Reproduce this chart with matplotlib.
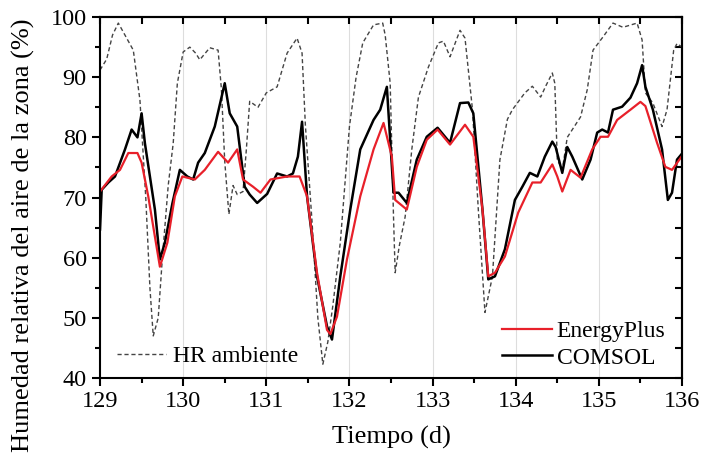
import matplotlib
matplotlib.use("Agg")
import matplotlib.pyplot as plt
from matplotlib.ticker import MultipleLocator

plt.rcParams['font.family'] = ['Liberation Serif', 'DejaVu Serif']

# HR ambiente (dashed)
t_hr = [129.0, 129.08, 129.15, 129.22, 129.3, 129.4, 129.48, 129.55, 129.6, 129.64,
        129.7, 129.75, 129.82, 129.88, 129.93, 130.0, 130.08, 130.15, 130.2, 130.32,
        130.42, 130.46, 130.5, 130.55, 130.6, 130.65, 130.72, 130.76, 130.8, 130.9,
        131.0, 131.13, 131.25, 131.37, 131.43, 131.47, 131.55, 131.62, 131.68, 131.74,
        131.8, 131.89, 132.0, 132.08, 132.16, 132.29, 132.4, 132.43, 132.49, 132.53,
        132.55, 132.6, 132.67, 132.75, 132.83, 132.95, 133.07, 133.13, 133.21, 133.33,
        133.39, 133.48, 133.55, 133.63, 133.72, 133.81, 133.9, 133.96, 134.11, 134.2,
        134.3, 134.36, 134.44, 134.47, 134.5, 134.56, 134.62, 134.78, 134.86, 134.93,
        135.05, 135.17, 135.29, 135.46, 135.52, 135.56, 135.65, 135.76, 135.82, 135.9,
        135.94, 136.0]
hr = [91.2, 93, 97, 99, 97, 94.5, 86.2, 70, 55, 47,
      50, 60, 72, 79, 89, 94.2, 95, 94, 92.9, 94.9,
      94.5, 88, 76, 67.2, 72, 70.5, 71, 78, 86, 85,
      87.4, 88.4, 94, 96.5, 94, 82, 66, 50, 42.3, 46,
      52, 62.5, 81.8, 90, 95.7, 98.7, 99, 97, 89, 66.8,
      57.5, 62, 66.8, 78, 86.7, 91.7, 95.7, 96, 93.4, 97.8,
      96.5, 84.6, 68, 50.9, 56.9, 76.3, 83, 84.6, 87.4, 88.5,
      86.7, 88.5, 90.7, 89, 76.3, 74.6, 80, 83.4, 87.9, 94.5,
      96.7, 99, 98.3, 99, 96.2, 87.4, 85.7, 81.8, 84.6, 94.5,
      95.6, 95]

# COMSOL
t_com = [129.0, 129.02, 129.1, 129.18, 129.3, 129.38, 129.45, 129.5, 129.54, 129.6,
         129.66, 129.72, 129.78, 129.87, 129.96, 130.05, 130.12, 130.18, 130.26, 130.38,
         130.5, 130.56, 130.65, 130.74, 130.8, 130.89, 131.01, 131.13, 131.25, 131.32,
         131.38, 131.43, 131.49, 131.61, 131.73, 131.79, 131.89, 132.01, 132.13, 132.29,
         132.37, 132.45, 132.53, 132.59, 132.69, 132.81, 132.93, 133.06, 133.21, 133.33,
         133.43, 133.49, 133.6, 133.67, 133.75, 133.87, 133.99, 134.08, 134.17, 134.26,
         134.35, 134.44, 134.48, 134.56, 134.62, 134.68, 134.8, 134.9, 134.98, 135.04,
         135.11, 135.17, 135.28, 135.38, 135.46, 135.52, 135.56, 135.65, 135.76, 135.83,
         135.88, 135.94, 136.0]
comsol = [64.7, 71.3, 72.5, 73.5, 78, 81.3, 80, 84, 79, 73.5,
          68, 59.7, 62.5, 69, 74.6, 73.5, 73, 75.8, 77.4, 81.8,
          89, 84, 81.8, 71.8, 70.5, 69.1, 70.6, 74, 73.5, 74,
          76.8, 82.6, 70.2, 56.9, 48.6, 46.4, 56.9, 68, 78, 82.9,
          84.6, 88.4, 70.8, 70.8, 69.1, 76.3, 80.1, 81.6, 79.1, 85.7,
          85.8, 84, 68, 56.4, 56.9, 61.4, 69.6, 71.8, 74.1, 73.5,
          76.8, 79.3, 78.4, 74.1, 78.4, 76.8, 73, 76.3, 80.8, 81.3,
          80.8, 84.6, 85.1, 86.6, 89, 92, 88.4, 84.6, 78, 69.6,
          70.8, 76.3, 77.3]

# EnergyPlus
t_ep = [129.0, 129.14, 129.24, 129.34, 129.45, 129.5, 129.58, 129.66, 129.72, 129.81,
        129.9, 129.99, 130.14, 130.26, 130.42, 130.54, 130.65, 130.72, 130.84, 130.93,
        131.05, 131.25, 131.4, 131.49, 131.61, 131.73, 131.77, 131.85, 131.97, 132.13,
        132.29, 132.41, 132.51, 132.55, 132.69, 132.81, 132.93, 133.06, 133.21, 133.39,
        133.49, 133.6, 133.67, 133.75, 133.87, 134.03, 134.2, 134.3, 134.44, 134.5,
        134.56, 134.66, 134.78, 134.92, 135.02, 135.11, 135.22, 135.38, 135.5, 135.56,
        135.7, 135.8, 135.88, 136.0]
eplus = [71, 73.5, 74.6, 77.4, 77.4, 75.8, 70.2, 63.5, 58.5, 62.5,
         70.2, 73.5, 73, 74.6, 77.6, 75.8, 78, 73, 71.8, 70.8,
         73, 73.5, 73.5, 70.2, 57.5, 48, 47.3, 50.2, 59.7, 70.2,
         78, 82.4, 76.8, 69.6, 68, 75.1, 79.6, 81.3, 78.8, 82.1,
         80.1, 68, 56.9, 57.5, 60.2, 67.5, 72.5, 72.5, 75.5, 73.5,
         71, 74.6, 73.3, 78, 80.1, 80.1, 82.9, 84.6, 85.9, 85.2,
         79.1, 75.1, 74.6, 76.9]

fig = plt.figure(figsize=(7.02, 4.61), dpi=100)
ax = fig.add_axes([0.1425, 0.18, 0.829, 0.783])

for d in range(130, 136):
    ax.axvline(d, color='#dddddd', lw=0.8, zorder=0)

l_hr, = ax.plot(t_hr, hr, color='#444444', lw=1.0, ls=(0, (3, 2)), label='HR ambiente')
l_com, = ax.plot(t_com, comsol, color='black', lw=1.8, label='COMSOL')
l_ep, = ax.plot(t_ep, eplus, color='#e8202a', lw=1.6, label='EnergyPlus')

ax.set_xlim(129, 136)
ax.set_ylim(40, 100)
ax.xaxis.set_major_locator(MultipleLocator(1))
ax.xaxis.set_minor_locator(MultipleLocator(0.5))
ax.yaxis.set_major_locator(MultipleLocator(10))
ax.yaxis.set_minor_locator(MultipleLocator(5))
ax.tick_params(which='both', direction='out', labelsize=17.5, width=1.5)
ax.tick_params(which='major', length=6)
ax.tick_params(which='minor', length=3.5)

top = ax.secondary_xaxis('top')
top.xaxis.set_major_locator(MultipleLocator(0.5))
top.tick_params(direction='in', length=5, width=1.5, labeltop=False)
right = ax.secondary_yaxis('right')
right.yaxis.set_major_locator(MultipleLocator(5))
right.tick_params(direction='in', length=5, width=1.5, labelright=False)
for s in list(ax.spines.values()) + [top.spines['top'], right.spines['right']]:
    s.set_linewidth(1.5)

ax.set_xlabel('Tiempo (d)', fontsize=19, labelpad=10)
ax.set_ylabel('Humedad relativa del aire de la zona (%)', fontsize=19)
ax.yaxis.set_label_coords(-0.112, 0.395)

leg1 = ax.legend(handles=[l_hr], loc='lower left', frameon=False, fontsize=17,
                 handlelength=2.1, handletextpad=0.3, borderaxespad=0.3,
                 bbox_to_anchor=(0.0, -0.015))
ax.add_artist(leg1)
ax.legend(handles=[l_ep, l_com], loc='lower right', frameon=False, fontsize=17,
          handlelength=2.1, handletextpad=0.2, labelspacing=0.2,
          borderaxespad=0.3, bbox_to_anchor=(1.0, -0.02))

fig.savefig('out.png', dpi=100)
